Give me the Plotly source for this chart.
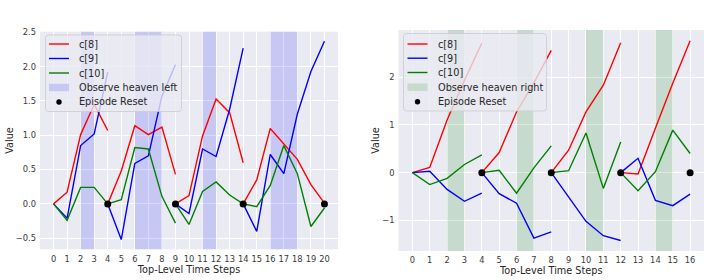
import plotly.graph_objects as go

# ---------------- data ----------------
# left panel: episodes (reset at 4, 9, 14, 20)
left_episodes = [[0, 1, 2, 3, 4], [4, 5, 6, 7, 8, 9], [9, 10, 11, 12, 13, 14], [14, 15, 16, 17, 18, 19, 20]]
left_c8 = [[0, 0.17, 1.01, 1.45, 1.07], [0, 0.48, 1.14, 1.01, 1.12, 0.43],
           [0, 0.12, 0.99, 1.53, 1.33, 0.60], [0, 0.35, 1.10, 0.87, 0.65, 0.28, 0.01]]
left_c9 = [[0, -0.21, 0.85, 1.02, 1.92], [0, -0.52, 0.59, 0.70, 1.57, 2.03],
           [0, -0.14, 0.80, 0.69, 1.38, 2.27], [0, -0.40, 0.72, 0.44, 1.31, 1.93, 2.37]]
left_c10 = [[0, -0.24, 0.24, 0.24, 0.0], [0, 0.06, 0.82, 0.80, 0.11, -0.28],
            [0, -0.30, 0.18, 0.32, 0.13, 0.0], [0, -0.04, 0.27, 0.85, 0.44, -0.33, -0.06]]
left_resets = [4, 9, 14, 20]
left_shade = [(2, 3), (6, 8), (11, 12), (16, 18)]

# right panel: episodes (reset at 4, 8, 12, 16)
right_episodes = [[0, 1, 2, 3, 4], [4, 5, 6, 7, 8], [8, 9, 10, 11, 12], [12, 13, 14, 15, 16]]
right_c8 = [[0, 0.11, 1.10, 1.93, 2.71], [0, 0.42, 1.27, 1.88, 2.56],
            [0, 0.47, 1.27, 1.83, 2.72], [0, -0.03, 0.93, 1.87, 2.76]]
right_c9 = [[0, 0.03, -0.35, -0.60, -0.43], [0, -0.44, -0.64, -1.37, -1.24],
            [0, -0.50, -1.02, -1.32, -1.42], [0, 0.30, -0.58, -0.69, -0.45]]
right_c10 = [[0, -0.25, -0.12, 0.17, 0.37], [0, 0.05, -0.43, 0.10, 0.56],
             [0, 0.04, 0.83, -0.33, 0.64], [0, -0.38, 0.02, 0.89, 0.40]]
right_resets = [4, 8, 12, 16]
right_shade = [(2, 3), (6, 7), (10, 11), (14, 15)]

left_yticks = [-0.5, 0.0, 0.5, 1.0, 1.5, 2.0, 2.5]
right_yticks = [-1, 0, 1, 2]
series_names = ["c[8]", "c[9]", "c[10]"]
series_colors = ["red", "blue", "green"]

# ---------------- helpers ----------------
W, H = 706, 280
ML, MR, MT, MB = 40, 2, 30, 29
PW, PH = W - ML - MR, H - MT - MB

def join(episodes, values):
    xs, ys = [], []
    for i, (ex, ev) in enumerate(zip(episodes, values)):
        if i:
            xs.append(None); ys.append(None)
        xs += ex; ys += ev
    return xs, ys

def shade_poly(spans):
    xs, ys = [], []
    for i, (a, b) in enumerate(spans):
        if i:
            xs.append(None); ys.append(None)
        xs += [a, a, b, b, a]
        ys += [-100, 100, 100, -100, -100]
    return xs, ys

def px_x(p):  # pixel -> paper fraction
    return (p - ML) / PW

def px_y(p):
    return 1 - (p - MT) / PH

FONT = "DejaVu Sans"
BG = "#EAEAF2"
TXT = "#262626"

fig = go.Figure()
shapes, annotations = [], []

def add_panel(episodes, c8, c9, c10, resets, spans, shade_name, shade_col, xa, ya):
    sx, sy = shade_poly(spans)
    fig.add_trace(go.Scatter(x=sx, y=sy, fill="toself", fillcolor=shade_col, mode="lines",
                             line=dict(width=0), name=shade_name, xaxis=xa, yaxis=ya,
                             showlegend=False, hoverinfo="skip"))
    for vals, col, name in zip([c8, c9, c10], series_colors, series_names):
        x, y = join(episodes, vals)
        fig.add_trace(go.Scatter(x=x, y=y, mode="lines", line=dict(color=col, width=1.4),
                                 name=name, xaxis=xa, yaxis=ya, showlegend=False,
                                 connectgaps=False))
    fig.add_trace(go.Scatter(x=resets, y=[0] * len(resets), mode="markers",
                             marker=dict(color="black", size=7), name="Episode Reset",
                             xaxis=xa, yaxis=ya, showlegend=False))

def add_legend(box, sample_x0, text_x, rows, shade_name, shade_col):
    # box = (left, top, right, bottom) in pixels
    l, t, r, b = box
    rad = 3
    path = (f"M {px_x(l+rad)},{px_y(t)} L {px_x(r-rad)},{px_y(t)} "
            f"Q {px_x(r)},{px_y(t)} {px_x(r)},{px_y(t+rad)} L {px_x(r)},{px_y(b-rad)} "
            f"Q {px_x(r)},{px_y(b)} {px_x(r-rad)},{px_y(b)} L {px_x(l+rad)},{px_y(b)} "
            f"Q {px_x(l)},{px_y(b)} {px_x(l)},{px_y(b-rad)} L {px_x(l)},{px_y(t+rad)} "
            f"Q {px_x(l)},{px_y(t)} {px_x(l+rad)},{px_y(t)} Z")
    shapes.append(dict(type="path", xref="paper", yref="paper", path=path, layer="above",
                       fillcolor="rgba(234,234,242,0.8)", line=dict(color="rgba(204,204,204,0.8)", width=1)))
    labels = series_names + [shade_name, "Episode Reset"]
    sw = 20
    for i, (lab, yy) in enumerate(zip(labels, rows)):
        if i < 3:
            shapes.append(dict(type="line", xref="paper", yref="paper", layer="above",
                               x0=px_x(sample_x0), x1=px_x(sample_x0 + sw), y0=px_y(yy), y1=px_y(yy),
                               line=dict(color=series_colors[i], width=1.4)))
        elif i == 3:
            shapes.append(dict(type="rect", xref="paper", yref="paper", layer="above",
                               x0=px_x(sample_x0), x1=px_x(sample_x0 + sw), y0=px_y(yy - 3.7), y1=px_y(yy + 3.7),
                               fillcolor=shade_col, line=dict(width=0)))
        else:
            cx = sample_x0 + sw / 2
            shapes.append(dict(type="circle", xref="paper", yref="paper", layer="above",
                               x0=px_x(cx - 2.7), x1=px_x(cx + 2.7), y0=px_y(yy - 2.7), y1=px_y(yy + 2.7),
                               fillcolor="black", line=dict(width=0)))
        annotations.append(dict(text=lab, xref="paper", yref="paper", x=px_x(text_x), y=px_y(yy),
                                xanchor="left", yanchor="middle", showarrow=False,
                                font=dict(family=FONT, size=9.7, color=TXT)))

add_panel(left_episodes, left_c8, left_c9, left_c10, left_resets, left_shade,
          "Observe heaven left", "rgba(0,0,255,0.15)", "x", "y")
add_panel(right_episodes, right_c8, right_c9, right_c10, right_resets, right_shade,
          "Observe heaven right", "rgba(0,128,0,0.15)", "x2", "y2")

add_legend((45.5, 35, 181.5, 111.5), 49, 77.3, [44, 58.5, 73, 87.5, 102],
           "Observe heaven left", "rgba(0,0,255,0.15)")
add_legend((403.5, 33.5, 546.5, 111), 407.5, 435.5, [44, 58.2, 72.5, 87.2, 101.8],
           "Observe heaven right", "rgba(0,128,0,0.15)")

axis_common = dict(showgrid=True, gridcolor="white", gridwidth=1, zeroline=False,
                   showline=False, ticks="", automargin=False, tickangle=0, ticklabelstandoff=3,
                   tickfont=dict(family=FONT, size=8.3, color="#3a3a3a"),
                   title_font=dict(family=FONT, size=9.7, color=TXT))

fig.update_layout(
    width=W, height=H,
    margin=dict(l=ML, r=MR, t=MT, b=MB),
    paper_bgcolor="white", plot_bgcolor=BG,
    font=dict(family=FONT),
    showlegend=False,
    xaxis=dict(domain=[0, px_x(338)], range=[-1, 21], tickmode="array",
               tickvals=list(range(0, 21)), title=dict(text="Top-Level Time Steps", standoff=2),
               anchor="y", **axis_common),
    yaxis=dict(domain=[px_y(249.3), px_y(31.7)], range=[-0.662, 2.51], tickmode="array",
               tickvals=left_yticks, ticktext=[f"{v:.1f}".replace("-", "\u2212") for v in left_yticks],
               title=dict(text="Value", standoff=0), anchor="x", **axis_common),
    xaxis2=dict(domain=[px_x(398.5), 1], range=[-0.8, 16.8], tickmode="array",
                tickvals=list(range(0, 17)), title=dict(text="Top-Level Time Steps", standoff=2),
                anchor="y2", **axis_common),
    yaxis2=dict(domain=[0, 1], range=[-1.64, 2.985], tickmode="array",
                tickvals=right_yticks, title=dict(text="Value", standoff=0), anchor="x2", **axis_common),
    shapes=shapes,
    annotations=annotations,
)

fig.write_html("out.html", config={"displayModeBar": False},
               post_script="document.body.style.margin='0';document.body.style.overflow='hidden';")
